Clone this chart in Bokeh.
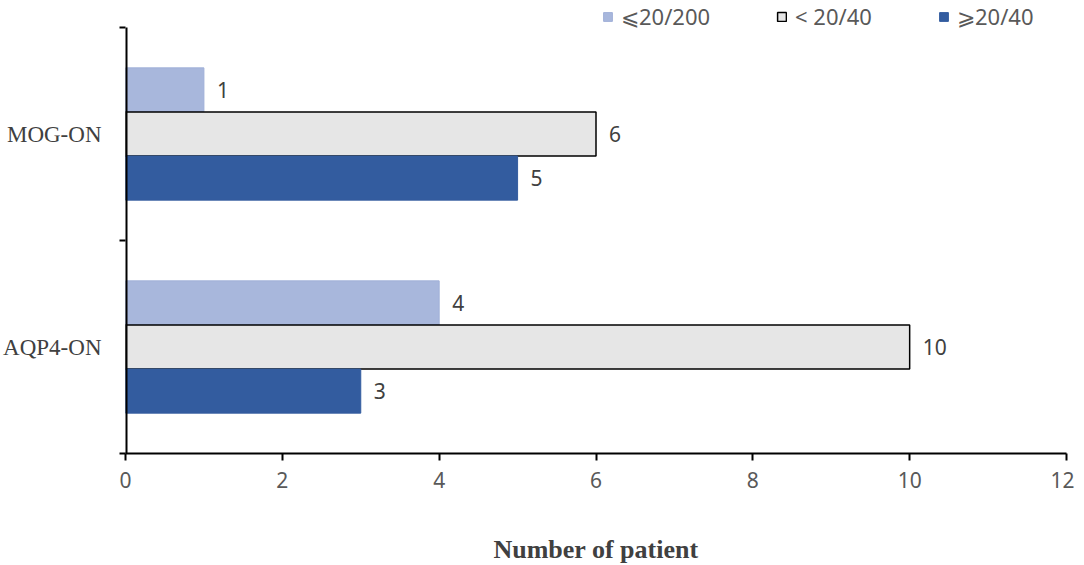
from bokeh.plotting import figure
from bokeh.models import Range1d, FixedTicker, Legend, LegendItem, ColumnDataSource
from bokeh.core.properties import value
from bokeh.embed import file_html
from bokeh.resources import INLINE

# ---- data ----
groups = ["AQP4-ON", "MOG-ON"]          # bottom to top
series = ["⩽20/200", "< 20/40", "⩾20/40"]
va_le_20_200 = [4, 1]
va_lt_20_40 = [10, 6]
va_ge_20_40 = [3, 5]
x_ticks = [0, 2, 4, 6, 8, 10, 12]
x_title = "Number of patient"

values = [va_le_20_200, va_lt_20_40, va_ge_20_40]
fills = ["#A8B7DC", "#E6E6E6", "#335C9F"]
lines = ["#A0B0D8", "#000000", "#335C9F"]
line_w = [1, 1.5, 1]

bar_h = 0.207
SANS = "Noto Sans"
SERIF = "Liberation Serif"

FRAME_H = 453          # frame includes a 27px strip above the category area for the legend
n = len(groups)
y_top = n * FRAME_H / 426.0

p = figure(frame_width=941, frame_height=FRAME_H,
           x_range=Range1d(0, 12), y_range=Range1d(0, y_top),
           output_backend="svg", toolbar_location=None,
           min_border_left=119, min_border_right=8,
           min_border_top=0, min_border_bottom=112)
p.outline_line_color = None
p.xgrid.visible = False
p.ygrid.visible = False
p.background_fill_color = "white"
p.border_fill_color = "white"

renderers = []
for k, vals in enumerate(values):
    ys = [i + 0.5 + (1 - k) * bar_h for i in range(n)]
    src = ColumnDataSource(dict(y=ys, right=vals, lab=[str(v) for v in vals]))
    r = p.hbar(y="y", left=0, right="right", height=bar_h, source=src,
               fill_color=fills[k], line_color=lines[k], line_width=line_w[k])
    renderers.append(r)
    p.text(x="right", y="y", text="lab", source=src, x_offset=13,
           text_baseline="middle", text_align="left",
           text_font=value(SANS), text_font_size="21px", text_color="#404040")

# vertical axis line only over the category area
p.segment(x0=[0], y0=[0], x1=[0], y1=[n], line_color="black", line_width=4)

# x axis
xa = p.xaxis[0]
xa.ticker = FixedTicker(ticks=x_ticks, minor_ticks=[])
xa.axis_line_color = "black"
xa.axis_line_width = 2
xa.major_tick_line_color = "black"
xa.major_tick_line_width = 2
xa.major_tick_out = 7
xa.major_tick_in = 0
xa.minor_tick_line_color = None
xa.major_label_text_font = SANS
xa.major_label_text_font_size = "21px"
xa.major_label_text_color = "#595959"
xa.major_label_standoff = 11
xa.axis_label = x_title
xa.axis_label_text_font = SERIF
xa.axis_label_text_font_style = "bold"
xa.axis_label_text_font_size = "26px"
xa.axis_label_text_color = "#404040"
xa.axis_label_standoff = 44

# y axis: category labels at band centres, ticks at band edges
ya = p.yaxis[0]
ya.ticker = FixedTicker(ticks=[i + 0.5 for i in range(n)],
                        minor_ticks=[float(i) for i in range(n + 1)])
ya.major_label_overrides = {i + 0.5: g for i, g in enumerate(groups)}
ya.axis_line_color = None
ya.major_tick_line_color = None
ya.major_tick_out = 0
ya.major_tick_in = 0
ya.minor_tick_line_color = "black"
ya.minor_tick_line_width = 2
ya.minor_tick_out = 6
ya.minor_tick_in = 0
ya.major_label_text_font = SERIF
ya.major_label_text_font_size = "23px"
ya.major_label_text_color = "#404040"
ya.major_label_standoff = 18

# legends (one per item) in the strip above the bars
leg_x = [477, 651, 813]
for k, r in enumerate(renderers):
    leg = Legend(items=[LegendItem(label=series[k], renderers=[r])],
                 location=(leg_x[k], FRAME_H - 31), orientation="horizontal",
                 padding=0, margin=0, border_line_color=None,
                 background_fill_alpha=0, glyph_width=11, glyph_height=11,
                 label_standoff=8, label_text_font=SANS,
                 label_text_font_size="22px", label_text_color="#595959",
                 label_height=20)
    p.add_layout(leg, "center")

open("out.html", "w").write(file_html(p, INLINE))
